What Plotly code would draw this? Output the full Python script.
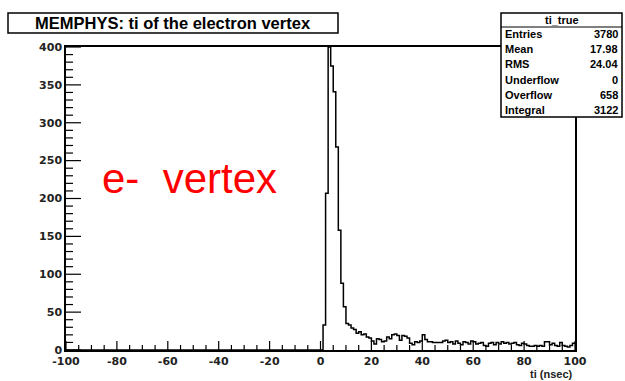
import numpy as np
import plotly.graph_objects as go

# Histogram definition: 200 bins of 1 ns from -100 to 100 ns
bin_low, bin_high, bin_width = -100.0, 100.0, 1.0

# Counts in the prompt peak, bins starting at t = 1 ns
peak_start = 1
peak_counts = [33, 207, 400, 375, 341, 268, 158, 88, 57, 35]

# Counts in the delayed tail, bins starting at t = 11 ns
tail_start = 11
tail_counts = [33, 29, 27, 22, 24, 20, 21, 17, 16, 12,
               8, 15, 14, 11, 12, 17, 15, 20, 21, 19,
               13, 19, 18, 16, 9, 7, 11, 10, 12, 20,
               14, 11, 11, 10, 10, 10, 10, 12, 13, 10,
               11, 8, 12, 9, 7, 11, 10, 8, 12, 11,
               8, 9, 10, 6, 5, 9, 10, 7, 10, 8,
               11, 9, 10, 8, 9, 10, 7, 6, 9, 8,
               6, 5, 5, 6, 5, 6, 5, 11, 11, 7,
               9, 6, 5, 10, 6, 5, 4, 6, 9]

# Statistics box contents
stats_name = "ti_true"
stats_labels = ["Entries", "Mean", "RMS", "Underflow", "Overflow", "Integral"]
stats_values = ["3780", "17.98", "24.04", "0", "658", "3122"]

title_text = "MEMPHYS: ti of the electron vertex"
x_title = "ti (nsec)"
note_text = "e-  vertex"

x_tickvals = [-100, -80, -60, -40, -20, 0, 20, 40, 60, 80, 100]
x_ticktext = ["-100", "-80", "-60", "-40", "-20", "0", "20", "40", "60", "80", "100"]
y_tickvals = [0, 50, 100, 150, 200, 250, 300, 350, 400]
y_ticktext = ["0", "50", "100", "150", "200", "250", "300", "350", "400"]

# Minor tick positions: every 5 ns on x, every 10 counts on y
x_minor = [v for v in range(-100, 101, 5) if v % 20 != 0]
y_minor = [v for v in range(0, 401, 10) if v % 50 != 0]

# Assemble the full bin array
edges = np.arange(bin_low, bin_high + bin_width / 2, bin_width)
counts = np.zeros(len(edges) - 1)
i0 = int((peak_start - bin_low) / bin_width)
counts[i0:i0 + len(peak_counts)] = peak_counts
i1 = int((tail_start - bin_low) / bin_width)
counts[i1:i1 + len(tail_counts)] = tail_counts

step_x = np.append(edges[:-1], edges[-1])
step_y = np.append(counts, counts[-1])

W, H = 625, 381
L, R, T, B = 66, 575, 47, 350


def px(x):
    return (x - L) / (R - L)


def py(y):
    return (B - y) / (B - T)


fig = go.Figure()
fig.add_trace(go.Scatter(
    x=step_x, y=step_y, mode="lines",
    line=dict(shape="hv", color="black", width=1.5),
))

font_main = "Liberation Sans, Arial, sans-serif"
tick_font = dict(family="DejaVu Sans", size=11, color="#222222", weight="bold")

fig.update_layout(
    template="none",
    width=W, height=H,
    margin=dict(l=L, r=W - R, t=T, b=H - B),
    paper_bgcolor="white", plot_bgcolor="white",
    xaxis=dict(
        range=[bin_low, bin_high], tickmode="array",
        tickvals=x_tickvals, ticktext=x_ticktext, ticks="",
        showline=True, linecolor="black", linewidth=1.5, mirror=True,
        showgrid=False, zeroline=False, tickfont=tick_font,
    ),
    yaxis=dict(
        range=[0, 400], tickmode="array",
        tickvals=y_tickvals, ticktext=y_ticktext, ticks="",
        showline=True, linecolor="black", linewidth=1.5, mirror=True,
        showgrid=False, zeroline=False, tickfont=tick_font,
    ),
)

# Inward tick marks, placed on the axis scales with fixed pixel lengths
tick_line = dict(color="black", width=1.2)
for v, ln in [(v, 9) for v in x_tickvals] + [(v, 5) for v in x_minor]:
    fig.add_shape(type="line", xref="x", yref="y", x0=v, x1=v,
                  ysizemode="pixel", yanchor=0, y0=0, y1=ln, line=tick_line)
for v, ln in [(v, 15) for v in y_tickvals] + [(v, 7) for v in y_minor]:
    fig.add_shape(type="line", xref="x", yref="y", y0=v, y1=v,
                  xsizemode="pixel", xanchor=bin_low, x0=0, x1=ln,
                  line=tick_line)

# Title box
fig.add_shape(type="rect", xref="paper", yref="paper",
              x0=px(8), x1=px(338), y0=py(33), y1=py(13),
              line=dict(color="black", width=1.5), fillcolor="white")
fig.add_annotation(xref="paper", yref="paper", x=px(173), y=py(23),
                   text="<b>" + title_text + "</b>", showarrow=False,
                   xanchor="center", yanchor="middle",
                   font=dict(family=font_main, size=16.5, color="black"))

# Statistics box
box_l, box_r, box_t, box_b = 501, 622, 13, 117
fig.add_shape(type="rect", xref="paper", yref="paper",
              x0=px(box_l), x1=px(box_r), y0=py(box_b), y1=py(box_t),
              line=dict(color="black", width=1.5), fillcolor="white")
fig.add_shape(type="line", xref="paper", yref="paper",
              x0=px(box_l), x1=px(box_r), y0=py(27), y1=py(27),
              line=dict(color="black", width=1))
stats_font = dict(family=font_main, size=11, color="black")
fig.add_annotation(xref="paper", yref="paper", x=px((box_l + box_r) / 2),
                   y=py(20), text="<b>" + stats_name + "</b>",
                   showarrow=False, xanchor="center", yanchor="middle",
                   font=stats_font)
row_y0, row_dy = 34, 15.2
for k, (lab, val) in enumerate(zip(stats_labels, stats_values)):
    yy = py(row_y0 + k * row_dy)
    fig.add_annotation(xref="paper", yref="paper", x=px(503), y=yy,
                       text="<b>" + lab + "</b>", showarrow=False,
                       xanchor="left", yanchor="middle", font=stats_font)
    fig.add_annotation(xref="paper", yref="paper", x=px(620), y=yy,
                       text="<b>" + val + "</b>", showarrow=False,
                       xanchor="right", yanchor="middle", font=stats_font)

# Axis title
fig.add_annotation(xref="paper", yref="paper", x=px(575), y=py(374),
                   text="<b>" + x_title + "</b>", showarrow=False,
                   xanchor="right", yanchor="middle",
                   font=dict(family=font_main, size=11, color="#222222"))

# Red label
fig.add_annotation(xref="paper", yref="paper", x=px(189), y=py(178),
                   text=note_text, showarrow=False,
                   xanchor="center", yanchor="middle",
                   font=dict(family=font_main, size=42, color="#ff0000"))

fig.write_html("out.html")
